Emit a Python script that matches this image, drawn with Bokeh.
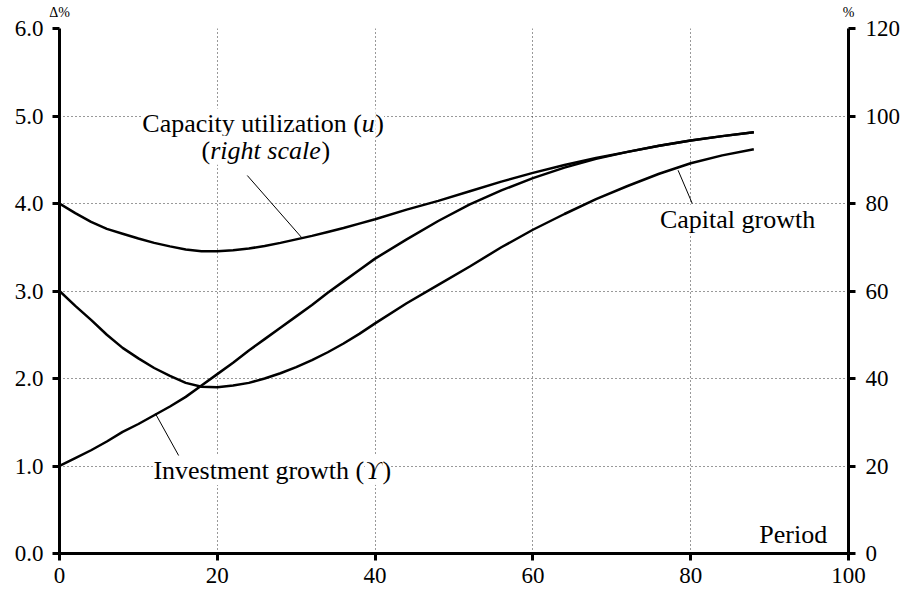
from bokeh.plotting import figure
from bokeh.models import Range1d, LinearAxis, FixedTicker, PrintfTickFormatter, Label
from bokeh.embed import file_html
from bokeh.resources import INLINE

# ---------------- data ----------------
period = [0, 2, 4, 6, 8, 10, 12, 14, 16, 18, 20, 22, 24, 26, 28, 30, 32, 34,
          36, 38, 40, 44, 48, 52, 56, 60, 64, 68, 72, 76, 80, 84, 88]
# capacity utilization, right scale (%)
utilization = [80.0, 77.8, 75.8, 74.2, 73.1, 72.0, 71.0, 70.2, 69.5, 69.1,
               69.1, 69.3, 69.7, 70.3, 71.0, 71.8, 72.6, 73.5, 74.4, 75.4,
               76.4, 78.6, 80.6, 82.8, 85.0, 87.0, 88.8, 90.4, 91.8, 93.2,
               94.4, 95.4, 96.3]
# investment growth (left scale, delta %)
investment_growth = [1.00, 1.09, 1.18, 1.28, 1.39, 1.48, 1.58, 1.68, 1.79, 1.92,
                     2.05, 2.18, 2.32, 2.45, 2.58, 2.71, 2.84, 2.98, 3.11, 3.24,
                     3.37, 3.59, 3.80, 3.99, 4.15, 4.29, 4.41, 4.51, 4.59, 4.66,
                     4.72, 4.77, 4.815]
# capital growth (left scale, delta %)
capital_growth = [3.00, 2.83, 2.67, 2.50, 2.35, 2.23, 2.12, 2.03, 1.95, 1.905,
                  1.90, 1.92, 1.95, 2.00, 2.06, 2.13, 2.21, 2.30, 2.40, 2.51,
                  2.63, 2.86, 3.07, 3.28, 3.50, 3.70, 3.88, 4.05, 4.20, 4.34,
                  4.46, 4.55, 4.62]

x_ticks = [0, 20, 40, 60, 80, 100]
left_ticks = [0, 1, 2, 3, 4, 5, 6]
right_ticks = [0, 20, 40, 60, 80, 100, 120]
unit_labels = {0: "Δ%", 100: "%"}

FONT = "Liberation Serif"

p = figure(width=903, height=598, output_backend="svg", toolbar_location=None,
           x_range=Range1d(0, 100), y_range=Range1d(0, 6),
           min_border_left=59, min_border_right=54, min_border_top=28,
           min_border_bottom=45, y_axis_location="left")
p.extra_y_ranges = {"right": Range1d(0, 120)}
p.outline_line_color = None
p.background_fill_color = "white"
p.border_fill_color = "white"

def style_axis(ax, standoff):
    ax.axis_line_width = 3
    ax.axis_line_color = "black"
    ax.major_tick_line_width = 3
    ax.major_tick_line_color = "black"
    ax.major_tick_out = 7
    ax.major_tick_in = 0
    ax.minor_tick_line_color = None
    ax.major_label_text_font = FONT
    ax.major_label_text_font_size = "23px"
    ax.major_label_text_color = "black"
    ax.major_label_standoff = standoff

xa = p.xaxis[0]
xa.ticker = FixedTicker(ticks=x_ticks)
style_axis(xa, 7)

ya = p.yaxis[0]
ya.ticker = FixedTicker(ticks=left_ticks)
ya.formatter = PrintfTickFormatter(format="%.1f")
style_axis(ya, 9)

yr = LinearAxis(y_range_name="right", ticker=FixedTicker(ticks=right_ticks))
style_axis(yr, 10)
p.add_layout(yr, "right")

# unit labels (Δ% over the left axis, % over the right axis)
top = LinearAxis(ticker=FixedTicker(ticks=list(unit_labels.keys())),
                 major_label_overrides=unit_labels)
top.axis_line_color = None
top.major_tick_line_color = None
top.minor_tick_line_color = None
top.major_tick_out = 0
top.major_tick_in = 0
top.major_label_standoff = 9
top.major_label_text_font = FONT
top.major_label_text_font_size = "14px"
top.major_label_text_color = "black"
p.add_layout(top, "above")

p.xgrid.ticker = FixedTicker(ticks=[20, 40, 60, 80])
p.ygrid.ticker = FixedTicker(ticks=[1, 2, 3, 4, 5, 6])
for g in (p.xgrid[0], p.ygrid[0]):
    g.grid_line_color = "#333333"
    g.grid_line_dash = "1 3"
    g.grid_line_width = 1

# ---------------- curves ----------------
p.line(period, utilization, y_range_name="right", line_color="black", line_width=2.5)
p.line(period, investment_growth, line_color="black", line_width=2.5)
p.line(period, capital_growth, line_color="black", line_width=2.5)

# leader lines (annotation pointers)
p.segment(x0=[23.8, 12.15, 78.4], y0=[4.32, 1.60, 4.38],
          x1=[30.7, 15.1, 80.2], y1=[3.61, 1.12, 4.00],
          line_color="black", line_width=1)

# ---------------- text annotations ----------------
def add_text(x, y, pieces, size="26px"):
    for text, style, dx in pieces:
        p.add_layout(Label(x=x, y=y, x_offset=dx, text=text, text_font=FONT,
                           text_font_size=size, text_font_style=style,
                           text_color="black", text_align="left",
                           text_baseline="alphabetic",
                           background_fill_color="white"))

add_text(10.5, 4.92, [("Capacity utilization (", "normal", 0),
                      ("u", "italic", 219.5),
                      (")", "normal", 233)])
add_text(18.0, 4.61, [("(", "normal", 0),
                      ("right scale", "italic", 8.7),
                      (")", "normal", 120)])
add_text(11.9, 0.95, [("Investment growth (", "normal", 0),
                      ("ϒ", "italic", 212),
                      (")", "normal", 229)])
add_text(76.1, 3.82, [("Capital growth", "normal", 0)])
p.add_layout(Label(x=97.3, y=0.22, text="Period", text_font=FONT,
                   text_font_size="26px", text_align="right",
                   text_baseline="alphabetic", text_color="black"))

open("out.html", "w").write(file_html(p, INLINE))
